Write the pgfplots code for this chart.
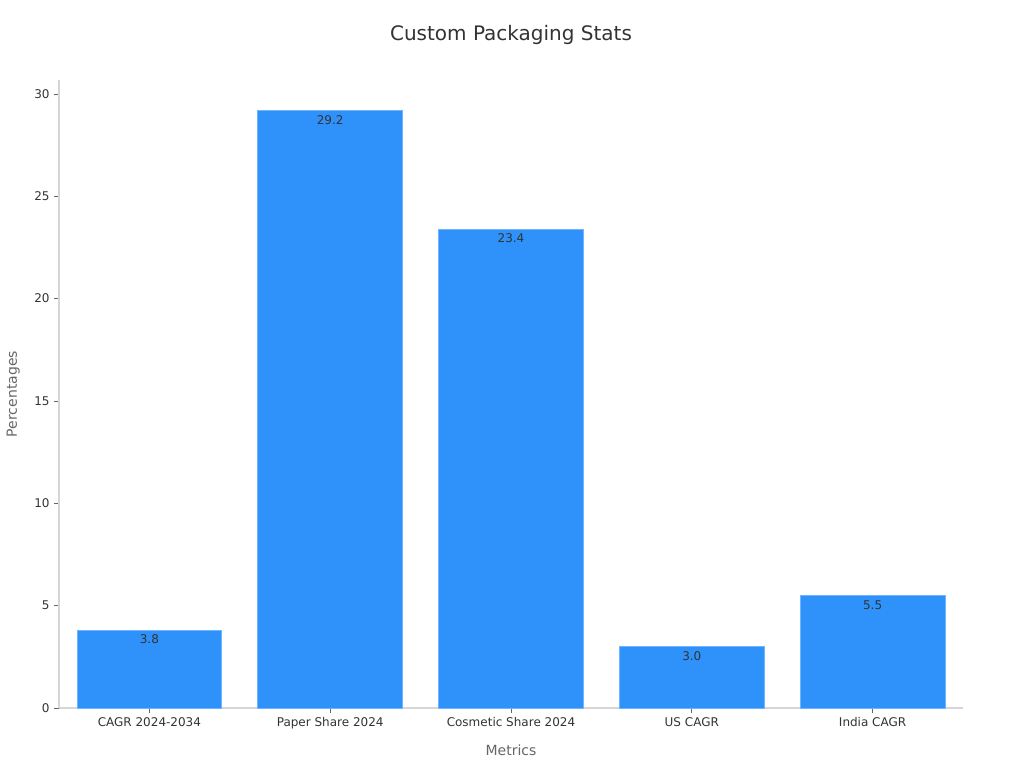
\documentclass[border=0pt]{standalone}
\usepackage{pgfplots}
\pgfplotsset{compat=1.18}
\usepackage{fontspec}
\setmainfont{DejaVu Sans}
\definecolor{barblue}{RGB}{46,146,250}
\definecolor{baredge}{RGB}{110,180,255}
\definecolor{spine}{RGB}{214,214,214}
\definecolor{txt}{RGB}{51,51,51}
\definecolor{lbl}{RGB}{102,102,102}
\begin{document}
\begin{tikzpicture}
\useasboundingbox (0pt,0pt) rectangle (768pt,576pt);
\begin{axis}[
  at={(44.25pt,45pt)}, anchor=south west,
  scale only axis,
  width=678pt, height=471pt,
  xmin=-0.5, xmax=4.5,
  ymin=0, ymax=30.68,
  xtick=data,
  xticklabels={CAGR 2024-2034, Paper Share 2024, Cosmetic Share 2024, US CAGR, India CAGR},
  ytick={0,5,10,15,20,25,30},
  axis x line*=bottom, axis y line*=left,
  axis line style={draw=spine, line width=0.8pt, -},
  tick style={draw=lbl, line width=0.6pt},
  tick align=outside,
  major tick length=3.5pt,
  every tick label/.append style={font=\fontsize{9}{10}\selectfont, text=txt},
  /pgf/number format/assume math mode=true,
  xlabel={Metrics}, ylabel={Percentages},
  label style={font=\fontsize{10.5}{12}\selectfont, text=lbl},
  xlabel style={yshift=-5pt},
  ylabel style={yshift=4pt},
  title={Custom Packaging Stats},
  title style={font=\fontsize{15}{17}\selectfont, text=txt, yshift=17pt},
  ybar, bar width=0.8,
  nodes near coords,
  nodes near coords style={anchor=north, yshift=0pt, font=\fontsize{9}{10}\selectfont, text=txt,
    /pgf/number format/.cd, fixed, fixed zerofill, precision=1, assume math mode=true},
  clip=false,
]
\addplot[fill=barblue, draw=baredge, line width=0.6pt] coordinates {(0,3.8) (1,29.2) (2,23.4) (3,3.0) (4,5.5)};
\end{axis}
\end{tikzpicture}
\end{document}
